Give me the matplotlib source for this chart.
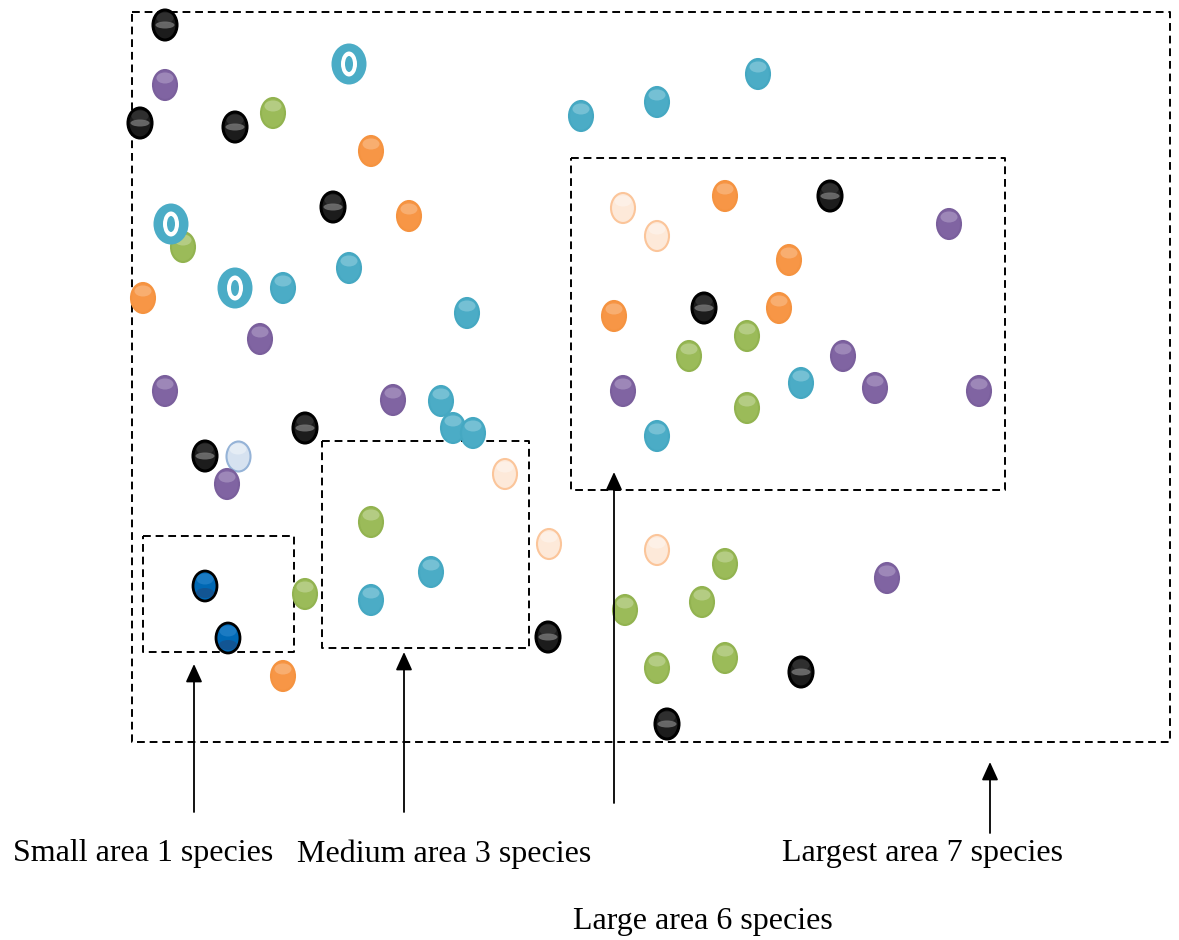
import numpy as np
import matplotlib
matplotlib.use("Agg")
import matplotlib.pyplot as plt
from matplotlib.collections import EllipseCollection

# species positions (picture pixel coords, y downwards)
black_x = [165, 140, 235, 333, 305, 205, 704, 830, 548, 801, 667]
black_y = [25, 123, 127, 207, 428, 456, 308, 196, 637, 672, 724]

lightblue_x = [238]
lightblue_y = [456]

purple_x = [165, 260, 165, 393, 227, 949, 623, 843, 875, 979, 887]
purple_y = [85, 339, 391, 400, 484, 224, 391, 356, 388, 391, 578]

green_x = [273, 183, 689, 747, 747, 371, 305, 725, 702, 625, 657, 725]
green_y = [113, 247, 356, 336, 408, 522, 594, 564, 602, 610, 668, 658]

orange_x = [371, 409, 143, 725, 789, 779, 614, 283]
orange_y = [151, 216, 298, 196, 260, 308, 316, 676]

peach_x = [623, 657, 505, 549, 657]
peach_y = [208, 236, 474, 544, 550]

teal_x = [581, 657, 758, 349, 283, 467, 441, 453, 473, 801, 657, 431, 371]
teal_y = [116, 102, 74, 268, 288, 313, 401, 428, 433, 383, 436, 572, 600]

darkblue_x = [205, 228]
darkblue_y = [586, 638]

ring_x = [349, 171, 235]
ring_y = [64, 224, 288]

# dashed areas: left, top, right, bottom
box_names = ["outer", "small", "medium", "large"]
box_left = [132, 143, 322, 571]
box_top = [12, 536, 441, 158]
box_right = [1170, 294, 529, 1005]
box_bottom = [742, 652, 648, 490]

# arrows (x, tail y, head y)
arrow_x = [194, 404, 614, 990]
arrow_tail = [812, 812, 803, 833]
arrow_head = [664, 652, 472, 762]

labels = ["Small area 1 species", "Medium area 3 species",
          "Largest area 7 species", "Large area 6 species"]
label_x = [143, 444, 923, 703]
label_y = [854, 854, 854, 921]

fig = plt.figure(figsize=(11.79, 9.40), dpi=100)
ax = fig.add_axes([0, 0, 1, 1])
ax.set_xlim(0, 1179)
ax.set_ylim(940, 0)
ax.axis("off")


def ellipses(x, y, w, h, face, edge="none", lw=0, alpha=1.0, dy=0, z=3):
    n = len(x)
    offs = np.column_stack([x, np.asarray(y, float) + dy])
    ec = EllipseCollection(np.full(n, w), np.full(n, h), np.zeros(n),
                           units="xy", offsets=offs,
                           offset_transform=ax.transData,
                           facecolors=face, edgecolors=edge,
                           linewidths=lw, alpha=alpha, zorder=z)
    ax.add_collection(ec)


def balls(x, y, face, edge, hi, lw=1.5, dark=None):
    ellipses(x, y, 24, 30, face, edge, lw)
    if dark is not None:
        ellipses(x, y, 18, 10, dark, alpha=0.6, dy=7)
    ellipses(x, y, 17, 11, hi, alpha=0.65, dy=-7)


balls(black_x, black_y, "#1c1c1c", "black", "#3a3a3a", lw=2.2)
ellipses(black_x, black_y, 19, 7, "#7a7a7a", alpha=0.8)
balls(lightblue_x, lightblue_y, "#d6e2f0", "#95b3d7", "#eef3f9")
balls(purple_x, purple_y, "#8064a2", "#7a5f9c", "#ad9bc5")
balls(green_x, green_y, "#9bbb59", "#92b350", "#c3d69b")
balls(orange_x, orange_y, "#f79646", "#f59340", "#fabb88")
balls(peach_x, peach_y, "#fde9d9", "#fbc59a", "#fef5ee")
balls(teal_x, teal_y, "#4bacc6", "#45a8c2", "#8ccbdc")
balls(darkblue_x, darkblue_y, "#0068b4", "black", "#2a86cc", lw=2.0,
      dark="#1f497d")

# teal rings
ellipses(ring_x, ring_y, 35, 41, "#4bacc6", z=4)
ellipses(ring_x, ring_y, 16, 25, "white", z=4)
ellipses(ring_x, ring_y, 8, 16, "#4bacc6", z=4)

for l, t, r, b in zip(box_left, box_top, box_right, box_bottom):
    ax.plot([l, r, r, l, l], [t, t, b, b, t], color="black", lw=1.4,
            ls=(0, (4, 2.5)), zorder=2)

for x, t, h in zip(arrow_x, arrow_tail, arrow_head):
    ax.annotate("", xy=(x, h), xytext=(x, t),
                arrowprops=dict(arrowstyle="-|>,head_length=0.55,head_width=0.25",
                                color="black", lw=1.3, mutation_scale=20,
                                shrinkA=0, shrinkB=0))

for s, x, y in zip(labels, label_x, label_y):
    ax.text(x, y, s, ha="center", va="center", fontsize=23,
            family="Liberation Serif", color="black")

fig.savefig("out.png", dpi=100)
